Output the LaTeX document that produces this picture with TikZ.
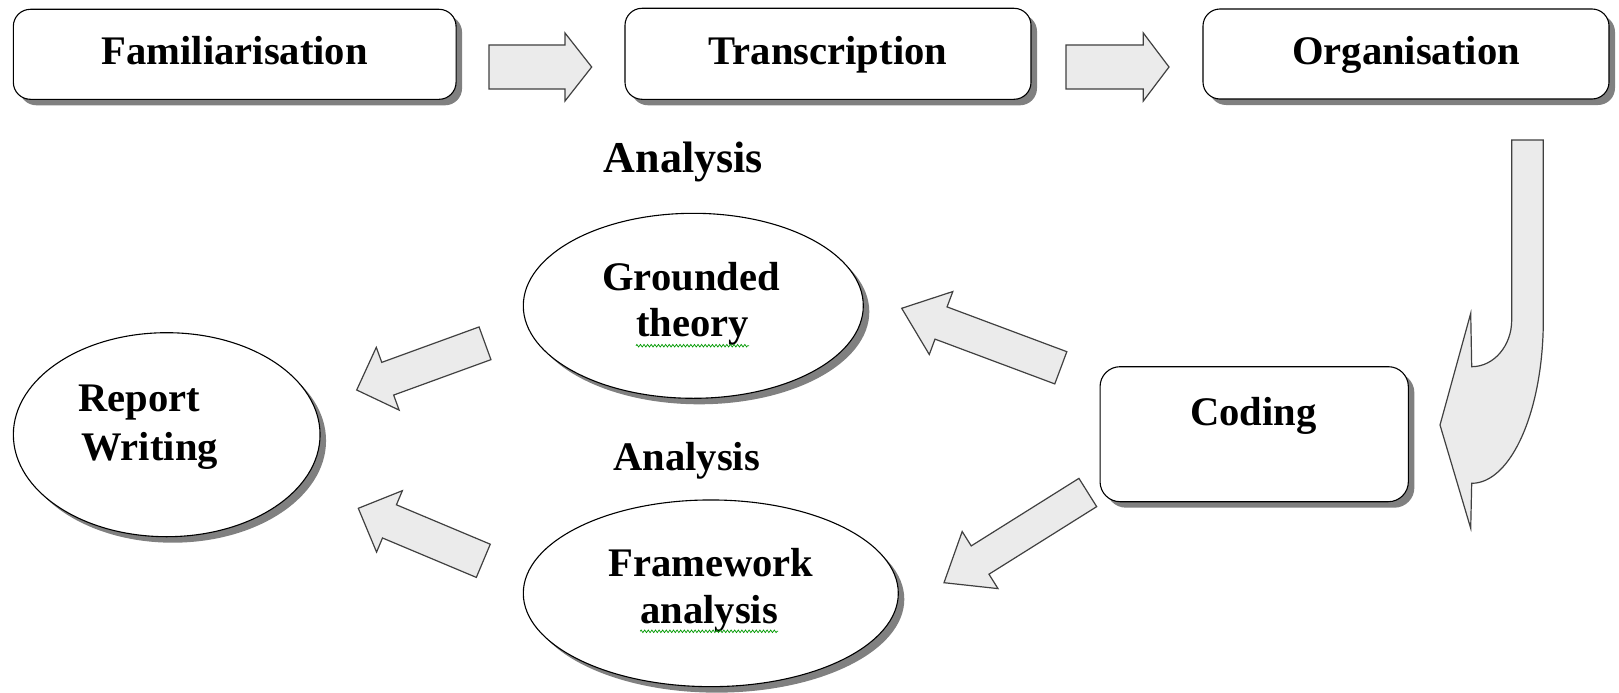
\documentclass[tikz,border=0pt]{standalone}
\usepackage{fontspec}
\setmainfont{Liberation Serif}
\usetikzlibrary{calc,shapes.geometric,shadows,decorations.pathmorphing}
\newcommand\blockarr[5]{%
  \coordinate (hb) at ($(#2)!#5pt!(#1)$);
  \draw[barrow] ($(#1)!#3pt!90:(#2)$) -- ($(hb)!#3pt!90:(#2)$) -- ($(hb)!#4pt!90:(#2)$) -- (#2)
     -- ($(hb)!#4pt!-90:(#2)$) -- ($(hb)!#3pt!-90:(#2)$) -- ($(#1)!#3pt!-90:(#2)$) -- cycle;}
\begin{document}
\begin{tikzpicture}[x=1pt,y=-1pt,
  shad/.style={drop shadow={shadow xshift=6pt, shadow yshift=-6pt, fill=black!50, opacity=1}},
  box/.style={rectangle, draw=black, line width=1.1pt, fill=white, rounded corners=17pt, inner sep=0pt, shad},
  oval/.style={ellipse, draw=black, line width=1.1pt, fill=white, inner sep=0pt, shad},
  lbl/.style={font=\fontsize{40.6}{47}\selectfont\bfseries, inner sep=0pt, anchor=base},
  barrow/.style={draw=black!75, fill=black!8, line width=1.2pt, line join=miter},
  spell/.style={draw=green!60!black, line width=0.7pt, decorate, decoration={zigzag, amplitude=1.3pt, segment length=3.6pt}}]
\useasboundingbox (0,0) rectangle (1619,693);
% boxes
\node[box, minimum width=442.7pt, minimum height=90pt] (fam) at (234.7,54.3) {};
\node[box, minimum width=406pt, minimum height=91pt] (tra) at (828,53.8) {};
\node[box, minimum width=406pt, minimum height=90pt] (org) at (1406,54) {};
\node[box, rounded corners=20pt, minimum width=308.3pt, minimum height=135pt] (cod) at (1254.2,434.2) {};
% ellipses
\node[oval, minimum width=306.7pt, minimum height=204pt] (rep) at (166.7,434.7) {};
\node[oval, minimum width=340pt, minimum height=185pt] (gro) at (693.3,305.8) {};
\node[oval, minimum width=375pt, minimum height=186.7pt] (fra) at (710.8,593.3) {};
% texts
\node[lbl] (tfam) at (234.7,65) {Familiarisation};
\node[lbl] (ttra) at (828,65) {Transcription};
\node[lbl] (torg) at (1406,65) {Organisation};
\node[lbl, font=\fontsize{44}{50}\selectfont\bfseries] (tan1) at (683.3,172.7) {Analysis};
\node[lbl] (tgr1) at (691,290) {Grounded};
\node[lbl] (tgr2) at (692.5,336.7) {theory};
\node[lbl] (tan2) at (686.7,470) {Analysis};
\node[lbl] (tfw1) at (710.8,576.7) {Framework};
\node[lbl] (tfw2) at (709.2,623.3) {analysis};
\node[lbl] (trw1) at (139,411.7) {Report};
\node[lbl] (trw2) at (149.5,460) {Writing};
\node[lbl] (tcod) at (1253.3,425) {Coding};
\draw[spell] ([yshift=-9pt]tgr2.base west) -- ([yshift=-9pt]tgr2.base east);
\draw[spell] ([yshift=-8pt]tfw2.base west) -- ([yshift=-8pt]tfw2.base east);
% block arrows
\coordinate (a1s) at (489,67);     \coordinate (a1e) at (591.7,67);
\coordinate (a2s) at (1066,67);    \coordinate (a2e) at (1169,67);
\coordinate (a3s) at (485,343.3);  \coordinate (a3e) at (356.7,390);
\coordinate (a4s) at (483.3,560.8);\coordinate (a4e) at (358.3,508.3);
\coordinate (a5s) at (1060.8,367.8);\coordinate (a5e) at (901.7,308.3);
\coordinate (a6s) at (1087.8,492.5);\coordinate (a6e) at (944,582.7);
\blockarr{a1s}{a1e}{22}{34}{26.7}
\blockarr{a2s}{a2e}{22}{34}{25.7}
\blockarr{a3s}{a3e}{17.4}{33.4}{33}
\blockarr{a4s}{a4e}{18}{33.3}{33.8}
\blockarr{a5s}{a5e}{17.2}{33.6}{42}
\blockarr{a6s}{a6e}{16.7}{33.7}{42.6}
% curved arrow
\draw[barrow] (1511.7,140) -- (1543.3,140) -- (1543.3,320)
  .. controls (1543.3,410.2) and (1511.3,483.3) .. (1471.7,483.3)
  -- (1470.7,528.3) -- (1440,425) -- (1470.7,313.3) -- (1471.7,366.7)
  .. controls (1493.8,366.7) and (1511.7,345.8) .. (1511.7,320) -- cycle;
\end{tikzpicture}
\end{document}
